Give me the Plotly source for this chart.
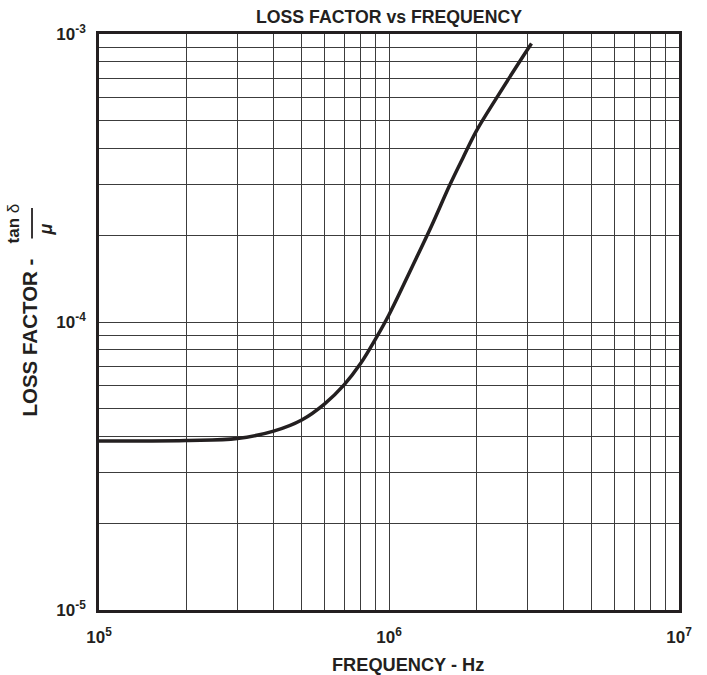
import plotly.graph_objects as go

# Loss factor (tan delta / mu) versus frequency
freq_hz = [1e5, 2e5, 3e5, 4e5, 5e5, 6e5, 7e5, 8e5, 9e5, 1e6,
           1.2e6, 1.4e6, 1.62e6, 1.8e6, 2e6, 2.35e6, 2.9e6, 3.1e6]
loss_factor = [3.86e-5, 3.88e-5, 3.94e-5, 4.18e-5, 4.57e-5, 5.2e-5, 6.05e-5,
               7.2e-5, 8.75e-5, 1.06e-4, 1.55e-4, 2.15e-4, 2.99e-4, 3.72e-4,
               4.6e-4, 6.0e-4, 8.37e-4, 9.27e-4]

# Grid positions (every 1..9 multiple of each decade) and decade labels
x_grid = [m * 10 ** e for e in (5, 6) for m in range(1, 10)] + [1e7]
x_labels = {1e5: "10<sup>5</sup>", 1e6: "10<sup>6</sup>", 1e7: "10<sup>7</sup>"}
y_grid = [m * 10.0 ** e for e in (-5, -4) for m in range(1, 10)] + [1e-3]
y_labels = {1e-5: "10<sup>-5</sup>", 1e-4: "10<sup>-4</sup>", 1e-3: "10<sup>-3</sup>"}

INK = "#231f20"
GRID = "#3c3c3c"
FONT = "Liberation Sans, Arial, sans-serif"

fig = go.Figure()
fig.add_trace(go.Scatter(
    x=freq_hz, y=loss_factor, mode="lines",
    line=dict(color=INK, width=3.5, shape="spline", smoothing=1.0),
    hoverinfo="x+y", showlegend=False,
))

def ticktext(vals, labels):
    out = []
    for v in vals:
        lab = ""
        for k, t in labels.items():
            if abs(v - k) / k < 1e-9:
                lab = t
        out.append(lab)
    return out

axis_common = dict(
    type="log", showgrid=True, gridcolor=GRID, gridwidth=1.3,
    showline=True, linecolor=INK, linewidth=2.5, mirror=True,
    ticks="", zeroline=False,
    tickfont=dict(family=FONT, size=17, color=INK, weight="bold"),
)

fig.update_xaxes(range=[5, 7], tickmode="array", tickvals=x_grid,
                 ticktext=ticktext(x_grid, x_labels), ticklabelstandoff=10,
                 **axis_common)
fig.update_yaxes(range=[-5, -3], tickmode="array", tickvals=y_grid,
                 ticktext=ticktext(y_grid, y_labels), ticklabelstandoff=7,
                 **axis_common)

bold = dict(family=FONT, color=INK, weight="bold")
annotations = [
    dict(text="LOSS FACTOR vs FREQUENCY", x=0.5, y=1.03, xref="paper", yref="paper",
         xanchor="center", yanchor="middle", showarrow=False,
         font=dict(size=17.7, **bold)),
    dict(text="FREQUENCY - Hz", x=0.532, y=-0.096, xref="paper", yref="paper",
         xanchor="center", yanchor="middle", showarrow=False,
         font=dict(size=18.2, **bold)),
    dict(text="LOSS FACTOR -", x=-0.119, y=0.473, xref="paper", yref="paper",
         xanchor="center", yanchor="middle", showarrow=False, textangle=-90,
         font=dict(size=20.5, **bold)),
    dict(text="<b>tan</b> δ", x=-0.1475, y=0.672, xref="paper", yref="paper",
         xanchor="center", yanchor="middle", showarrow=False, textangle=-90,
         font=dict(family=FONT, size=17, color=INK)),
    dict(text="<i><b>μ</b></i>", x=-0.092, y=0.66, xref="paper", yref="paper",
         xanchor="center", yanchor="middle", showarrow=False, textangle=-90,
         font=dict(family=FONT, size=18, color=INK)),
]

fig.add_shape(type="line", xref="paper", yref="paper",
              x0=-0.1155, x1=-0.1155, y0=0.645, y1=0.698,
              line=dict(color=INK, width=1.8))

fig.update_layout(
    width=707, height=675,
    margin=dict(l=99, r=28, t=34, b=65),
    paper_bgcolor="white", plot_bgcolor="white",
    annotations=annotations,
    font=dict(family=FONT, color=INK),
)

fig.write_html("out.html")
